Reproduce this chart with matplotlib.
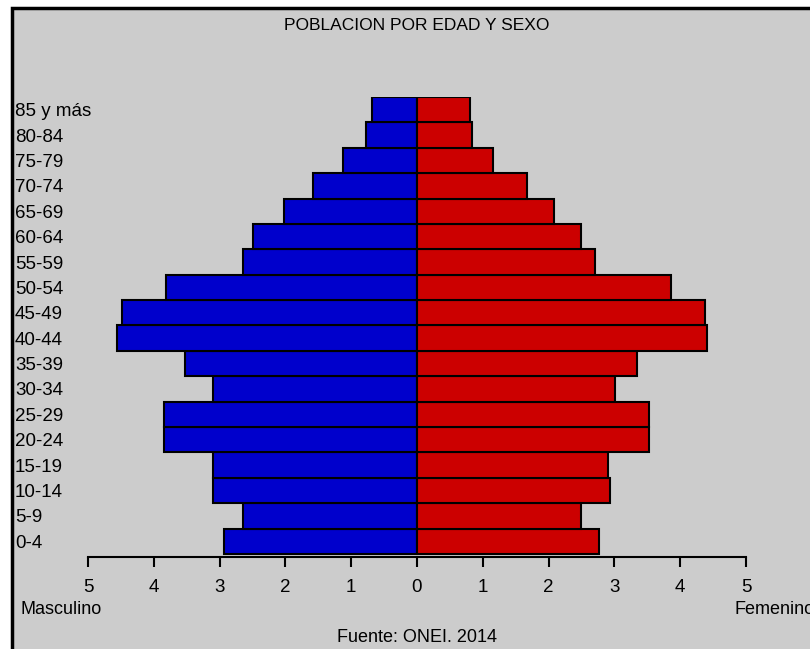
import matplotlib.pyplot as plt
import numpy as np
from matplotlib.patches import Rectangle

plt.rcParams['font.family'] = ['Liberation Sans', 'DejaVu Sans']

ages = ['0-4', '5-9', '10-14', '15-19', '20-24', '25-29', '30-34', '35-39',
        '40-44', '45-49', '50-54', '55-59', '60-64', '65-69', '70-74',
        '75-79', '80-84', '85 y más']
masculino = [2.93, 2.64, 3.10, 3.10, 3.84, 3.84, 3.10, 3.53,
             4.56, 4.48, 3.81, 2.64, 2.49, 2.02, 1.58, 1.12, 0.77, 0.69]
femenino = [2.76, 2.49, 2.93, 2.90, 3.52, 3.52, 3.01, 3.34,
            4.41, 4.38, 3.86, 2.70, 2.49, 2.08, 1.67, 1.16, 0.83, 0.80]
ticks = [-5, -4, -3, -2, -1, 0, 1, 2, 3, 4, 5]

fig = plt.figure(figsize=(8.1, 6.49), dpi=100)
fig.patch.set_facecolor('white')
# grey panel with black frame (top and left edges visible)
fig.patches.append(Rectangle((12 / 810, -0.05), 1.1, (649 - 8) / 649 + 0.05,
                             transform=fig.transFigure, facecolor='#CCCCCC',
                             edgecolor='black', linewidth=2.5, zorder=-5))

ax = fig.add_axes([88 / 810, (649 - 557) / 649, 658 / 810, (557 - 97) / 649])
ax.set_facecolor('none')

y = np.arange(len(ages))
ax.barh(y, -np.array(masculino), height=1.0, color='#0000CC',
        edgecolor='black', linewidth=1.5)
ax.barh(y, femenino, height=1.0, color='#CC0000',
        edgecolor='black', linewidth=1.5)

ax.set_xlim(-5, 5)
ax.set_ylim(-0.62, 17.5)

for s in ['top', 'left', 'right']:
    ax.spines[s].set_visible(False)
ax.spines['bottom'].set_linewidth(1.5)

ax.set_xticks(ticks)
ax.set_xticklabels([str(abs(t)) for t in ticks], fontsize=13.5)
ax.tick_params(axis='x', length=7, width=1.5, pad=9)

ax.set_yticks(y)
ax.set_yticklabels(ages, fontsize=13.5)
ax.tick_params(axis='y', length=0, pad=52.5)
for lbl in ax.get_yticklabels():
    lbl.set_horizontalalignment('left')

fig.text(417 / 810, 1 - 25 / 649, 'POBLACION POR EDAD Y SEXO',
         ha='center', va='center', fontsize=12.5)
fig.text(20 / 810, 1 - 609 / 649, 'Masculino', ha='left', va='center', fontsize=13)
fig.text(735 / 810, 1 - 609 / 649, 'Femenino', ha='left', va='center', fontsize=13)
fig.text(417 / 810, 1 - 637 / 649, 'Fuente: ONEI. 2014',
         ha='center', va='center', fontsize=13)

fig.savefig('out.png', dpi=100)
